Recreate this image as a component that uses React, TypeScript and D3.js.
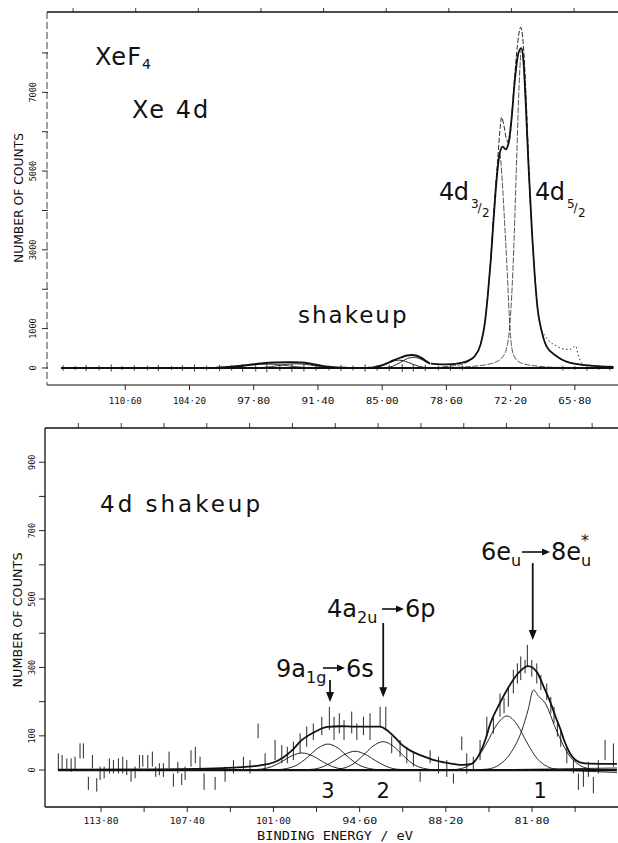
import React from "react";
import * as d3 from "d3";

type Pt = [number, number];

// ---------- top panel : XeF4, Xe 4d ----------
const topXTicks = [110.6, 104.2, 97.8, 91.4, 85.0, 78.6, 72.2, 65.8];
const topYTicks = [0, 1000, 2000, 3000, 4000, 5000, 6000, 7000, 8000];
const topYLabels = [0, 1000, 3000, 5000, 7000];
const topBorderTicks = [115.8, 109.56, 103.32, 97.08, 90.84, 84.6, 78.36, 72.12, 65.88];

const xefBaseline: Pt[] = [[117.0, 0], [61.95, 0]];
const topNoise: Pt[] = [
  [116.8, 70], [115.6, 50], [114.5, 80], [113.2, 60], [112.0, 90], [110.9, 50], [109.7, 70],
  [108.4, 60], [107.3, 80], [106.0, 50], [104.9, 70], [103.7, 90], [102.5, 60], [101.2, 80],
  [100.0, 70], [98.9, 100], [97.6, 90], [96.5, 110], [95.2, 80], [94.0, 100], [92.8, 90],
  [91.6, 70], [90.3, 60], [89.1, 80], [87.9, 60], [86.7, 90], [85.5, 70], [84.3, 80],
  [83.0, 100], [81.9, 90], [80.7, 80], [79.4, 60], [78.2, 70], [77.0, 60], [67.0, 60],
  [65.8, 50], [64.6, 70], [63.4, 50], [62.3, 60],
];
const xefBumpA: Pt[] = [
  [101.6, 5], [100.1, 30], [98.6, 70], [97.1, 115], [95.6, 140], [94.1, 145], [93.1, 140],
  [92.1, 110], [91.1, 60], [89.8, 20], [88.6, 5],
];
const xefBumpA1: Pt[] = [[101.0, 5], [99.5, 30], [98.0, 75], [96.5, 100], [95.0, 75], [93.5, 30], [92.0, 5]];
const xefBumpA2: Pt[] = [[97.5, 5], [96.0, 35], [94.8, 85], [93.5, 105], [92.3, 80], [91.0, 30], [89.7, 5]];
const xefBumpB: Pt[] = [
  [86.4, 5], [85.9, 15], [84.9, 80], [83.9, 190], [83.1, 270], [82.55, 315], [82.05, 330],
  [81.55, 310], [81.05, 250], [80.55, 160], [80.25, 110],
];
const xefBumpB1: Pt[] = [
  [86.3, 3], [85.5, 25], [84.7, 90], [84.0, 170], [83.34, 200], [82.7, 170], [82.0, 100],
  [81.3, 40], [80.6, 12], [80.25, 5],
];
const xefBumpB2: Pt[] = [
  [84.8, 5], [84.0, 40], [83.2, 140], [82.5, 240], [81.85, 270], [81.2, 230], [80.6, 150], [80.25, 110],
];
const xefFit: Pt[] = [
  [80.16, 110], [79.17, 90], [78.17, 95], [77.18, 130], [76.38, 190], [75.78, 300], [75.19, 600],
  [74.79, 1100], [74.49, 1800], [74.19, 2700], [73.89, 3800], [73.59, 4800], [73.29, 5450],
  [72.99, 5620], [72.7, 5550], [72.4, 5720], [72.1, 6350], [71.8, 7250], [71.5, 7900],
  [71.25, 8100], [71.11, 8120], [70.91, 7750], [70.71, 6800], [70.41, 5100], [70.06, 3400],
  [69.81, 2400], [69.51, 1500], [69.12, 950], [68.62, 550], [67.62, 300], [66.63, 160],
  [64.74, 70], [61.95, 25],
];
const xefData: Pt[] = [
  [74.19, 2700], [73.79, 4300], [73.49, 5300], [73.24, 6100], [73.1, 6370], [72.9, 6200],
  [72.65, 5850], [72.4, 5710], [72.2, 6000], [72.0, 6700], [71.8, 7400], [71.6, 8000],
  [71.4, 8450], [71.2, 8650], [71.0, 8400], [70.81, 7700], [70.61, 6600], [70.41, 5300], [70.21, 4000],
];
const xefTail: Pt[] = [
  [69.12, 950], [68.42, 700], [67.62, 560], [66.93, 480], [66.33, 470], [65.73, 560], [65.43, 300], [65.04, 90],
];
const comp32: Pt[] = [
  [79.0, 30], [77.5, 70], [76.5, 150], [75.8, 300], [75.2, 600], [74.8, 1100], [74.5, 1800],
  [74.2, 2700], [73.9, 3800], [73.6, 4800], [73.29, 5450], [73.05, 4800], [72.8, 3700],
  [72.55, 2500], [72.35, 1400], [72.15, 650], [71.9, 330], [71.5, 180], [70.8, 100],
  [69.8, 55], [68.5, 25], [66.5, 10],
];
const comp52: Pt[] = [
  [77.5, 20], [75.8, 45], [74.5, 90], [73.6, 160], [73.0, 280], [72.6, 500], [72.35, 900],
  [72.1, 1800], [71.85, 3300], [71.6, 5300], [71.35, 7200], [71.11, 8120], [70.9, 7750],
  [70.71, 6800], [70.41, 5100], [70.06, 3400], [69.81, 2400], [69.51, 1500], [69.12, 950],
  [68.62, 550], [67.62, 300], [66.63, 160], [64.74, 70], [62.0, 25],
];

// ---------- bottom panel : 4d shakeup ----------
const botXTicks = [113.8, 110.6, 107.4, 104.2, 101.0, 97.8, 94.6, 91.4, 88.2, 85.0, 81.8, 78.6];
const botXLabels = [113.8, 107.4, 101.0, 94.6, 88.2, 81.8];
const botYTicks = [0, 100, 200, 300, 400, 500, 600, 700, 800, 900];
const botYLabels = [0, 100, 300, 500, 700, 900];
const botBorderTicks = [115.48, 112.3, 109.12, 105.95, 102.77, 99.59, 96.41, 93.23, 90.05, 86.87, 83.7, 80.52, 77.34];

const shakeBaseline: Pt[] = [[117.0, 0], [75.5, 0]];
const shakeBgA: Pt[] = [[86.0, 0], [79.0, 4], [75.5, 6]];
const shakeBgB: Pt[] = [[80.0, 0], [75.5, -7]];
const shakeEnvelope: Pt[] = [
  [117.0, 1], [110.0, 2], [106.0, 4], [104.0, 7], [102.0, 14], [101.0, 22], [100.3, 36],
  [99.6, 58], [99.0, 84], [98.0, 110], [97.0, 126], [96.0, 128], [95.0, 127], [94.0, 127],
  [93.1, 127], [92.6, 117], [92.0, 96], [91.5, 75], [90.8, 56], [90.0, 42], [89.0, 28],
  [88.0, 20], [87.0, 15], [86.3, 18], [85.8, 40], [85.3, 85], [84.9, 136], [84.2, 195],
  [83.5, 245], [82.9, 280], [82.1, 304], [81.45, 287], [80.9, 240], [80.46, 200], [80.0, 150],
  [79.7, 120], [79.4, 85], [79.0, 50], [78.6, 30], [78.2, 22], [77.5, 19], [75.5, 18],
];
const shakeC4: Pt[] = [
  [102.62, 1], [101.87, 3], [101.12, 10], [100.37, 25], [99.62, 42], [98.87, 50], [98.12, 42],
  [97.37, 25], [96.62, 10], [95.87, 3], [95.12, 1],
];
const shakeC3: Pt[] = [
  [100.7, 1], [99.95, 5], [99.2, 16], [98.45, 38], [97.7, 64], [96.95, 76], [96.2, 64],
  [95.45, 38], [94.7, 16], [93.95, 5], [93.2, 1],
];
const shakeCm: Pt[] = [
  [98.69, 1], [97.94, 3], [97.19, 12], [96.44, 28], [95.69, 46], [94.94, 55], [94.19, 46],
  [93.44, 28], [92.69, 12], [91.94, 3], [91.19, 1],
];
const shakeC2: Pt[] = [
  [96.61, 1], [95.86, 5], [95.11, 17], [94.36, 42], [93.61, 70], [92.86, 83], [92.11, 70],
  [91.36, 42], [90.61, 17], [89.86, 5], [89.11, 1],
];
const shakeC1b: Pt[] = [
  [87.41, 2], [86.66, 10], [85.91, 33], [85.16, 79], [84.41, 133], [83.66, 158], [82.91, 133],
  [82.16, 79], [81.41, 33], [80.66, 10], [79.91, 2],
];
const shakeC1a: Pt[] = [
  [85.95, 1], [85.1, 3], [84.25, 15], [83.4, 49], [82.55, 117], [82.1, 175], [81.7, 234],
  [81.3, 215], [80.85, 197], [80.0, 117], [79.15, 49], [78.3, 15], [77.45, 3],
];
// [binding energy, low, high] error bars
const shakeBars: [number, number, number][] = [
  [116.97, 0, 49], [116.69, 0, 44], [116.34, 0, 34], [116.02, -5, 34], [115.73, 0, 39],
  [115.36, 34, 78], [115.11, 34, 78], [114.74, -58, -20], [114.44, 5, 44], [114.12, -63, -24],
  [113.87, -29, 10], [113.57, -24, 10], [113.18, -10, 34], [112.88, -10, 29], [112.51, -10, 34],
  [112.19, -10, 39], [111.89, -15, 29], [111.57, -34, 0], [111.27, -24, 10], [110.95, 5, 44],
  [110.7, 10, 44], [110.33, 5, 44], [109.99, 10, 54], [109.74, -20, 10], [109.47, -15, 20],
  [109.17, -20, 20], [108.75, 5, 54], [108.43, -49, -10], [108.1, -10, 24], [107.81, -44, -10],
  [107.56, -29, 10], [107.12, 10, 58], [106.8, 20, 68], [106.45, 0, 39], [106.15, -58, -10],
  [105.33, -58, -20], [104.59, -34, 10], [103.97, -10, 29], [103.23, 0, 39], [102.74, -10, 29],
  [102.14, 93, 136], [101.62, 5, 49], [100.88, 29, 88], [100.38, 20, 73], [99.97, 20, 68],
  [99.52, 29, 83], [99.02, 49, 107], [98.53, 68, 127], [98.04, 88, 136], [97.41, 102, 156],
  [96.85, 117, 185], [96.5, 88, 156], [96.11, 107, 166], [95.76, 88, 146], [95.19, 107, 171],
  [94.81, 88, 136], [94.32, 102, 156], [93.83, 88, 166], [93.08, 127, 185], [92.66, 117, 185],
  [92.22, 49, 98], [91.6, 39, 88], [91.1, 20, 68], [90.61, 10, 54], [90.11, -34, -5],
  [89.37, 20, 58], [88.75, -10, 39], [88.13, -20, 29], [87.64, -39, -10], [87.02, 58, 98],
  [86.65, -10, 49], [86.16, 0, 39], [85.66, 29, 88], [85.16, 98, 156], [84.67, 107, 156],
  [84.18, 156, 224], [83.88, 166, 210], [83.56, 185, 244], [83.19, 224, 293], [82.89, 253, 312],
  [82.64, 263, 332], [82.32, 283, 322], [82.15, 302, 366], [81.82, 273, 322], [81.45, 253, 312],
  [81.15, 234, 278], [80.71, 205, 253], [80.41, 166, 214], [80.17, 137, 185], [79.92, 98, 146],
  [79.67, 68, 117], [79.22, 20, 68], [78.73, -10, 29], [78.36, -58, -10], [77.99, -49, 0],
  [77.62, -20, 24], [77.25, -68, -20], [76.88, -10, 29], [76.38, 29, 88], [75.76, 10, 78],
];
// [binding energy, arrow start count, arrow tip count]
const shakeArrows: [number, number, number][] = [[81.75, 605, 380], [92.85, 430, 213], [96.8, 263, 199]];
const peakNumbers: [string, number][] = [["3", 96.95], ["2", 92.86], ["1", 81.2]];

const W = 618;
const H = 843;
const ink = "#111";
const sans = "DejaVu Sans, sans-serif";
const mono = "DejaVu Sans Mono, monospace";

const xTop = d3.scaleLinear().domain([118.4, 61.5]).range([47, 618]);
const yTop = d3.scaleLinear().domain([-432, 9040]).range([385, 12]);
const xBot = d3.scaleLinear().domain([117.96, 75.42]).range([45, 618]);
const yBot = d3.scaleLinear().domain([-108, 1000]).range([807, 428]);

const fmt = (v: number) => d3.format(".2f")(v).replace(".", "\u00b7");

function path(data: Pt[], xs: any, ys: any) {
  return d3.line<Pt>().x((d) => xs(d[0])).y((d) => ys(d[1])).curve(d3.curveMonotoneX)(data) || "";
}

function RArrow({ x1, x2, y }: { x1: number; x2: number; y: number }) {
  return (
    <g>
      <line x1={x1} x2={x2 - 6} y1={y} y2={y} stroke={ink} strokeWidth={1.6} />
      <path d={`M${x2},${y} L${x2 - 8},${y - 3.5} L${x2 - 8},${y + 3.5} Z`} fill={ink} />
    </g>
  );
}

export default function App() {
  const topCurve = (d: Pt[]) => path(d, xTop, yTop);
  const botCurve = (d: Pt[]) => path(d, xBot, yBot);
  return (
    <div style={{ position: "absolute", left: 0, top: 0 }}>
      <svg width={W} height={H} style={{ display: "block", background: "#fff" }}>
        {/* ================= top panel ================= */}
        <line x1={47} x2={W} y1={12} y2={12} stroke={ink} strokeWidth={1.5} />
        {topBorderTicks.map((t) => (
          <line key={"tb" + t} x1={xTop(t)} x2={xTop(t)} y1={12} y2={8} stroke={ink} strokeWidth={0.8} />
        ))}
        <line x1={47} x2={47} y1={12} y2={385} stroke={ink} strokeWidth={0.8} strokeDasharray="7,3" />
        <line x1={47} x2={W} y1={385} y2={385} stroke={ink} strokeWidth={1.2} />
        {topXTicks.map((t) => (
          <g key={"tx" + t}>
            <line x1={xTop(t)} x2={xTop(t)} y1={385} y2={390} stroke={ink} strokeWidth={0.9} />
            <text x={xTop(t)} y={404} textAnchor="middle" fontFamily={mono} fontSize={9.5}
              textLength={33} lengthAdjust="spacingAndGlyphs" fill={ink}>{fmt(t)}</text>
          </g>
        ))}
        {topYTicks.map((t) => (
          <line key={"ty" + t} x1={42} x2={48} y1={yTop(t)} y2={yTop(t)} stroke={ink} strokeWidth={0.9} />
        ))}
        {topYLabels.map((t) => (
          <text key={"tyl" + t} transform={`translate(33,${yTop(t)}) rotate(-90)`} textAnchor="middle"
            dominantBaseline="central" fontFamily={mono} fontSize={8.5} fill={ink}>{t}</text>
        ))}
        <text transform="translate(18,198) rotate(-90)" textAnchor="middle" dominantBaseline="central"
          fontFamily={sans} fontSize={12.5} textLength={130} lengthAdjust="spacingAndGlyphs" fill={ink}>
          NUMBER OF COUNTS
        </text>

        {/* spectrum */}
        <path d={topCurve(xefBaseline)} fill="none" stroke={ink} strokeWidth={2} />
        {topNoise.map(([be, a]) => (
          <line key={"tn" + be} x1={xTop(be)} x2={xTop(be)} y1={yTop(-a)} y2={yTop(a)} stroke={ink} strokeWidth={0.8} />
        ))}
        <path d={topCurve(xefBumpA1)} fill="none" stroke={ink} strokeWidth={0.8} />
        <path d={topCurve(xefBumpA2)} fill="none" stroke={ink} strokeWidth={0.8} />
        <path d={topCurve(xefBumpA)} fill="none" stroke={ink} strokeWidth={2} />
        <path d={topCurve(xefBumpB1)} fill="none" stroke={ink} strokeWidth={0.9} />
        <path d={topCurve(xefBumpB2)} fill="none" stroke={ink} strokeWidth={0.9} />
        <path d={topCurve(xefBumpB)} fill="none" stroke={ink} strokeWidth={2} />
        <path d={topCurve(comp32)} fill="none" stroke={ink} strokeWidth={0.7} strokeDasharray="6,1.5" />
        <path d={topCurve(comp52)} fill="none" stroke={ink} strokeWidth={0.7} strokeDasharray="6,1.5" />
        <path d={topCurve(xefFit)} fill="none" stroke={ink} strokeWidth={1.8} />
        <path d={topCurve(xefData)} fill="none" stroke={ink} strokeWidth={0.9} strokeDasharray="5,2" />
        <path d={topCurve(xefTail)} fill="none" stroke={ink} strokeWidth={0.9} strokeDasharray="1.5,2.5" />

        {/* annotations */}
        <text x={95} y={65} fontFamily={sans} fontSize={24} letterSpacing={1} fill={ink}>
          XeF<tspan fontSize={14} dy={4}>4</tspan>
        </text>
        <text x={132} y={118} fontFamily={sans} fontSize={24} letterSpacing={2} fill={ink}>Xe 4d</text>
        <text x={298} y={323} fontFamily={sans} fontSize={23} letterSpacing={2} fill={ink}>shakeup</text>
        <text x={439} y={200} fontFamily={sans} fontSize={24} letterSpacing={-0.5} fill={ink}>4d</text>
        <text fontFamily={sans} fontSize={12} fill={ink}>
          <tspan x={471} y={208}>3</tspan>
          <tspan x={477.5} y={212}>/</tspan>
          <tspan x={482} y={217}>2</tspan>
        </text>
        <text x={535} y={200} fontFamily={sans} fontSize={24} letterSpacing={-0.5} fill={ink}>4d</text>
        <text fontFamily={sans} fontSize={12} fill={ink}>
          <tspan x={567} y={208}>5</tspan>
          <tspan x={573.5} y={212}>/</tspan>
          <tspan x={578} y={217}>2</tspan>
        </text>

        {/* ================= bottom panel ================= */}
        <line x1={45} x2={W} y1={428} y2={428} stroke={ink} strokeWidth={1.5} />
        {botBorderTicks.map((t) => (
          <line key={"bb" + t} x1={xBot(t)} x2={xBot(t)} y1={428} y2={423} stroke={ink} strokeWidth={0.8} />
        ))}
        <line x1={45} x2={45} y1={428} y2={807} stroke={ink} strokeWidth={1.3} />
        <line x1={45} x2={W} y1={807} y2={807} stroke={ink} strokeWidth={1.5} />
        {botXTicks.map((t) => (
          <line key={"bx" + t} x1={xBot(t)} x2={xBot(t)} y1={807} y2={812} stroke={ink} strokeWidth={0.9} />
        ))}
        {botXLabels.map((t) => (
          <text key={"bxl" + t} x={xBot(t)} y={823.5} textAnchor="middle" fontFamily={mono} fontSize={9.5}
            textLength={35} lengthAdjust="spacingAndGlyphs" fill={ink}>{fmt(t)}</text>
        ))}
        <text x={335} y={840} textAnchor="middle" fontFamily={mono} fontSize={11.5}
          textLength={156} lengthAdjust="spacingAndGlyphs" fill={ink}>BINDING ENERGY / eV</text>
        {botYTicks.map((t) => (
          <line key={"by" + t} x1={39} x2={45} y1={yBot(t)} y2={yBot(t)} stroke={ink} strokeWidth={0.9} />
        ))}
        {botYLabels.map((t) => (
          <text key={"byl" + t} transform={`translate(32,${yBot(t)}) rotate(-90)`} textAnchor="middle"
            dominantBaseline="central" fontFamily={mono} fontSize={8.5} fill={ink}>{t}</text>
        ))}
        <text transform="translate(17,620) rotate(-90)" textAnchor="middle" dominantBaseline="central"
          fontFamily={sans} fontSize={12.5} textLength={135} lengthAdjust="spacingAndGlyphs" fill={ink}>
          NUMBER OF COUNTS
        </text>

        {/* spectrum */}
        {shakeBars.map(([be, lo, hi]) => (
          <line key={"eb" + be} x1={xBot(be)} x2={xBot(be)} y1={yBot(lo)} y2={yBot(hi)} stroke={ink} strokeWidth={0.9} />
        ))}
        <path d={botCurve(shakeBgA)} fill="none" stroke={ink} strokeWidth={0.9} />
        <path d={botCurve(shakeBgB)} fill="none" stroke={ink} strokeWidth={0.9} />
        {[shakeC4, shakeC3, shakeCm, shakeC2, shakeC1b, shakeC1a].map((c, i) => (
          <path key={"c" + i} d={botCurve(c)} fill="none" stroke={ink} strokeWidth={0.9} />
        ))}
        <path d={botCurve(shakeBaseline)} fill="none" stroke={ink} strokeWidth={2.2} />
        <path d={botCurve(shakeEnvelope)} fill="none" stroke={ink} strokeWidth={1.8} />

        {/* transition arrows */}
        {shakeArrows.map(([be, a, b]) => {
          const x = xBot(be);
          const tip = yBot(b);
          return (
            <g key={"sa" + be}>
              <line x1={x} x2={x} y1={yBot(a)} y2={tip - 6} stroke={ink} strokeWidth={1.8} />
              <path d={`M${x},${tip} L${x - 4},${tip - 10} L${x + 4},${tip - 10} Z`} fill={ink} />
            </g>
          );
        })}
        {peakNumbers.map(([s, be]) => (
          <text key={"pn" + s} x={xBot(be)} y={798} textAnchor="middle" fontFamily={sans} fontSize={21} fill={ink}>{s}</text>
        ))}

        <text x={100} y={512} fontFamily={sans} fontSize={23} letterSpacing={3} fill={ink}>4d shakeup</text>

        <text x={481} y={560} fontFamily={sans} fontSize={24} fill={ink}>
          6e<tspan fontSize={16} dy={6}>u</tspan>
        </text>
        <RArrow x1={522} x2={550} y={552} />
        <text x={551} y={560} fontFamily={sans} fontSize={24} fill={ink}>
          8e<tspan fontSize={16} dy={6}>u</tspan>
        </text>
        <text x={581} y={546} fontFamily={sans} fontSize={16} fill={ink}>*</text>

        <text x={327} y={617} fontFamily={sans} fontSize={24} fill={ink}>
          4a<tspan fontSize={16} dy={6}>2u</tspan>
        </text>
        <RArrow x1={382} x2={404} y={609} />
        <text x={405} y={617} fontFamily={sans} fontSize={24} fill={ink}>6p</text>

        <text x={276} y={677} fontFamily={sans} fontSize={24} fill={ink}>
          9a<tspan fontSize={16} dy={6}>1g</tspan>
        </text>
        <RArrow x1={323} x2={345} y={668} />
        <text x={346} y={677} fontFamily={sans} fontSize={24} fill={ink}>6s</text>
      </svg>
    </div>
  );
}
